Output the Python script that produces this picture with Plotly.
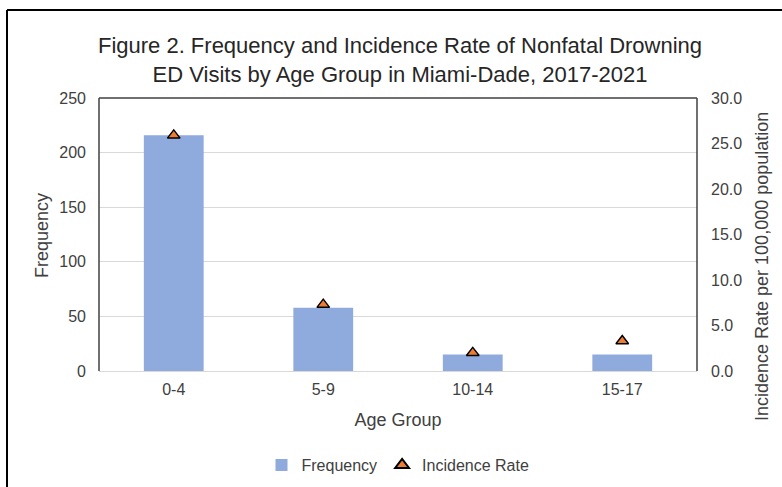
import plotly.graph_objects as go

# Nonfatal drowning ED visits, Miami-Dade 2017-2021
age_groups = ["0-4", "5-9", "10-14", "15-17"]
frequency = [216, 58, 15, 15]
incidence_rate = [25.9, 7.3, 2.0, 3.3]

freq_ticks = [0, 50, 100, 150, 200, 250]
rate_ticks = [0, 5, 10, 15, 20, 25, 30]

W, H = 782, 487
L, R, T, B = 99, 85, 98, 116

font_family = "Liberation Sans, Arial, sans-serif"
text_color = "#404040"

fig = go.Figure()

fig.add_trace(go.Bar(
    x=age_groups, y=frequency, name="Frequency",
    marker=dict(color="#8faadc", line=dict(width=0)),
    width=0.4, yaxis="y",
))

fig.add_trace(go.Scatter(
    x=age_groups, y=incidence_rate, name="Incidence Rate",
    mode="markers", yaxis="y2",
    marker=dict(symbol="triangle-up", size=11, color="#ed7d31",
                line=dict(color="#000000", width=1.4)),
))

# frame lines around the plot area and the outer border
shapes = [
    dict(type="line", xref="paper", yref="paper", x0=0, x1=0, y0=0, y1=1,
         line=dict(color="#404040", width=1.5)),
    dict(type="line", xref="paper", yref="paper", x0=0, x1=1, y0=1, y1=1,
         line=dict(color="#404040", width=1.5)),
    dict(type="line", xref="paper", yref="paper", x0=1, x1=1, y0=0, y1=1,
         line=dict(color="#404040", width=1.5)),
]
pw, ph = W - L - R, H - T - B
bx = (7 - L) / pw
by_top = (H - B - 10) / ph
by_bot = (H - B - H - 2) / ph
bx_right = (W + 2 - L) / pw
shapes += [
    dict(type="line", xref="paper", yref="paper", x0=bx, x1=bx, y0=by_bot, y1=by_top,
         line=dict(color="#000000", width=2)),
    dict(type="line", xref="paper", yref="paper", x0=bx, x1=bx_right, y0=by_top, y1=by_top,
         line=dict(color="#000000", width=2)),
]

fig.update_layout(
    width=W, height=H,
    margin=dict(l=L, r=R, t=T, b=B, autoexpand=False),
    paper_bgcolor="white", plot_bgcolor="white",
    font=dict(family=font_family, size=16, color=text_color),
    title=dict(
        text="Figure 2. Frequency and Incidence Rate of Nonfatal Drowning<br>ED Visits by Age Group in Miami-Dade, 2017-2021",
        x=400 / W, xanchor="center", y=1 - 53 / H, yanchor="middle",
        font=dict(family=font_family, size=22, color="#262626"),
    ),
    xaxis=dict(
        type="category", showgrid=False, showline=True, linecolor="#d9d9d9", linewidth=1,
        ticks="", ticklabelstandoff=4, tickfont=dict(size=16, color=text_color),
        title=dict(text="Age Group", font=dict(size=18, color=text_color), standoff=16),
    ),
    yaxis=dict(
        range=[0, 250], tickvals=freq_ticks, showgrid=True, gridcolor="#d9d9d9",
        gridwidth=1, zeroline=False, ticks="", showline=False,
        ticklabelstandoff=12, tickfont=dict(size=16, color=text_color),
    ),
    yaxis2=dict(
        range=[0, 30], tickvals=rate_ticks, tickformat=".1f", overlaying="y",
        side="right", showgrid=False, zeroline=False, ticks="", showline=False,
        ticklabelstandoff=13, tickfont=dict(size=16, color=text_color),
    ),
    legend=dict(
        orientation="h", x=0.5, xanchor="center", y=-(465 - (H - B)) / ph, yanchor="middle",
        font=dict(size=16, color=text_color), itemsizing="constant", itemwidth=30,
    ),
    bargap=0.6,
    shapes=shapes,
    annotations=[
        dict(text="Frequency", xref="paper", yref="paper",
             x=(42 - L) / pw, y=(H - B - 236) / ph, xanchor="center", yanchor="middle",
             textangle=-90, showarrow=False, font=dict(size=18, color=text_color)),
        dict(text="Incidence Rate per 100,000 population", xref="paper", yref="paper",
             x=(762 - L) / pw, y=(H - B - 267) / ph, xanchor="center", yanchor="middle",
             textangle=-90, showarrow=False, font=dict(size=18, color=text_color)),
    ],
)

fig.write_html("out.html")
